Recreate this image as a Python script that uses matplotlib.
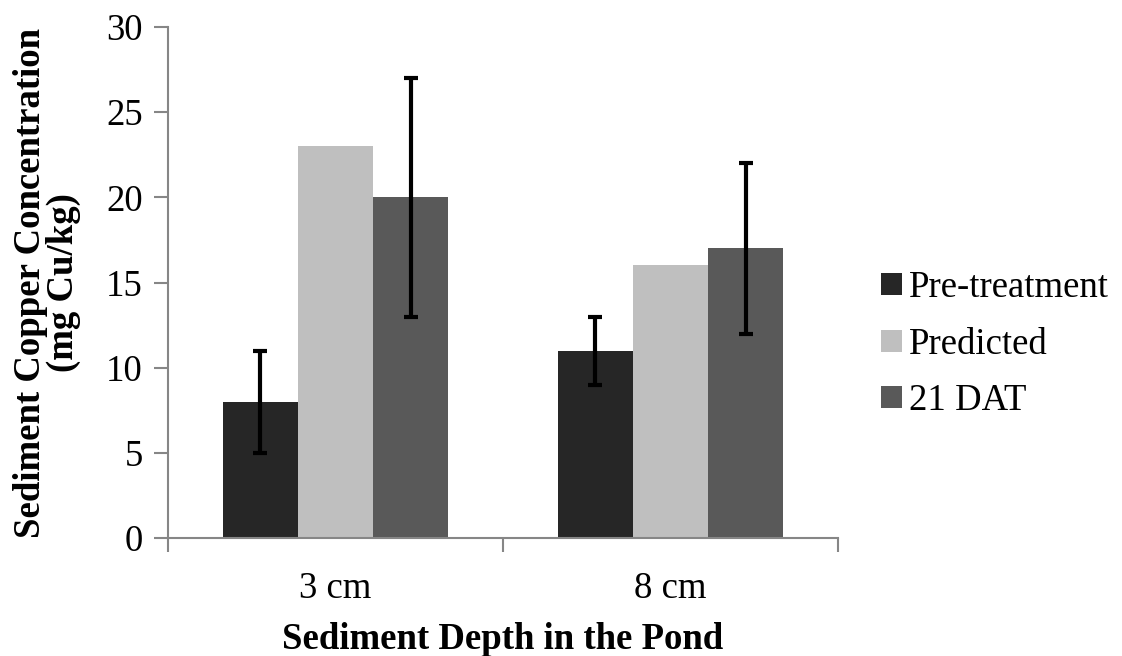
import matplotlib
matplotlib.use("Agg")
import matplotlib.pyplot as plt
import numpy as np
from matplotlib.patches import Patch

categories = ["3 cm", "8 cm"]
series_names = ["Pre-treatment", "Predicted", "21 DAT"]
pre_treatment = [8, 11]
predicted = [23, 16]
dat21 = [20, 17]
pre_err = [3, 2]
dat21_err = [7, 5]
yticks = [0, 5, 10, 15, 20, 25, 30]

colors = ["#262626", "#BFBFBF", "#595959"]
axis_color = "#868686"
FS = 26.5

plt.rcParams['font.family'] = ['Liberation Serif', 'DejaVu Serif']

fig = plt.figure(figsize=(11.22, 6.56), dpi=100)
ax = fig.add_axes([0.1497, 0.1799, 0.5972, 0.7789])

x = np.arange(len(categories))
w = 0.224
values = [pre_treatment, predicted, dat21]
errs = [pre_err, None, dat21_err]
for i, (vals, err) in enumerate(zip(values, errs)):
    pos = x + (i - 1) * w
    ax.bar(pos, vals, width=w, color=colors[i], zorder=2)
    if err is not None:
        ax.errorbar(pos, vals, yerr=err, fmt='none', ecolor='black',
                    elinewidth=3, capsize=5, capthick=3, zorder=3)

ax.set_xlim(-0.5, 1.5)
ax.set_ylim(0, 30)
ax.set_yticks(yticks)
ax.set_xticks(x)
ax.set_xticklabels(categories, fontsize=FS)
ax.set_xticks([-0.5, 0.5, 1.5], minor=True)
ax.tick_params(axis='x', which='major', length=0, pad=24)
ax.tick_params(axis='x', which='minor', length=10, width=1.5, color=axis_color, direction='out')
ax.tick_params(axis='y', length=10, width=1.5, color=axis_color, direction='out', labelsize=FS, pad=8)

for s in ['top', 'right']:
    ax.spines[s].set_visible(False)
for s in ['left', 'bottom']:
    ax.spines[s].set_color(axis_color)
    ax.spines[s].set_linewidth(1.5)

ax.set_xlabel("Sediment Depth in the Pond", fontsize=FS, fontweight='bold', labelpad=12)
ax.set_ylabel("Sediment Copper Concentration\n(mg Cu/kg)", fontsize=FS, fontweight='bold',
              labelpad=18, linespacing=0.92)

handles = [Patch(facecolor=c, edgecolor='none') for c in colors]
leg = fig.legend(handles, series_names, loc='center left', bbox_to_anchor=(0.756, 0.475),
                 frameon=False, fontsize=FS, handlelength=0.55, handleheight=0.55,
                 handletextpad=0.2, labelspacing=0.6)

fig.savefig("out.png", dpi=100)
